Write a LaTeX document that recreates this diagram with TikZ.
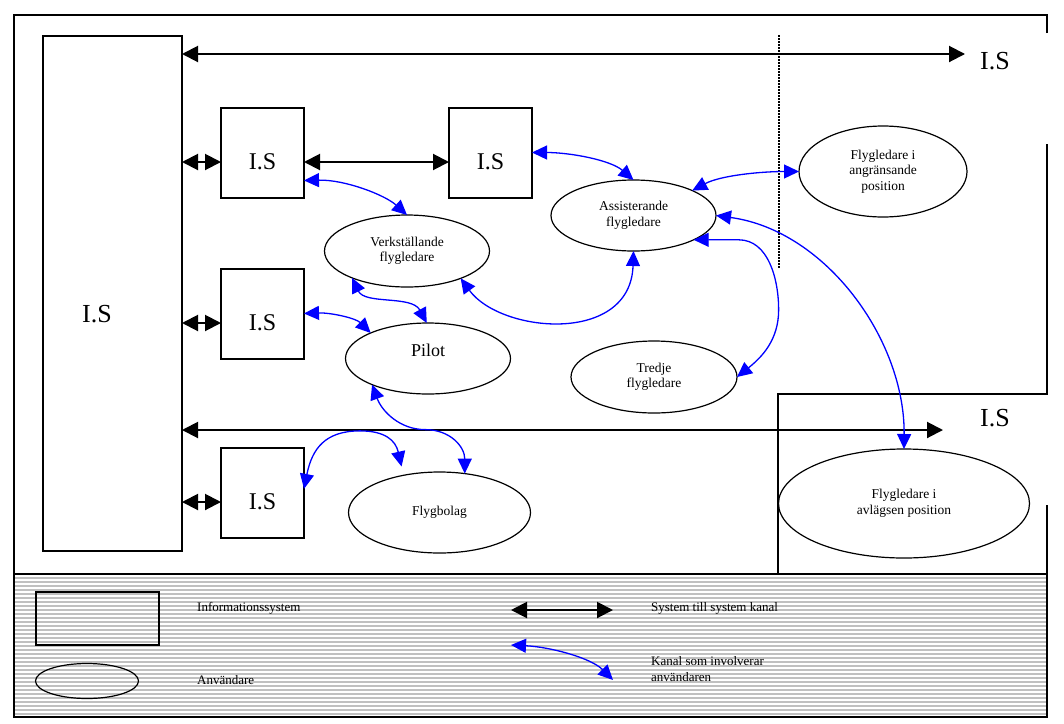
\documentclass[tikz,border=0pt]{standalone}
\usepackage{fontspec}
\setmainfont{Liberation Serif}
\usetikzlibrary{arrows.meta,shapes.geometric,calc}
\definecolor{leggray}{RGB}{192,192,192}
\begin{document}
\begin{tikzpicture}[x=1pt,y=-1pt,
  isbox/.style={draw,line width=2pt,minimum width=83pt,minimum height=90pt,inner sep=0pt,outer sep=0pt},
  istext/.style={font=\fontsize{24}{26}\selectfont,inner sep=0pt},
  bigtext/.style={font=\fontsize{26}{28}\selectfont,inner sep=0pt},
  user/.style={draw,ellipse,line width=1.2pt,inner sep=0pt,outer sep=0pt,align=center,font=\fontsize{13.5}{15.5}\selectfont},
  sys/.style={line width=2pt,{Triangle[length=16pt,width=16pt]}-{Triangle[length=16pt,width=16pt]}},
  chan/.style={draw=blue,line width=1.3pt,{Triangle[length=15pt,width=14pt]}-{Triangle[length=15pt,width=14pt]}},
  frame/.style={line width=2pt},
  legtext/.style={font=\fontsize{13}{15.5}\selectfont,anchor=west,inner sep=0pt,align=left}
]
\useasboundingbox (0,0) rectangle (1064,723);
\fill[white] (0,0) rectangle (1064,723);

% legend background
\fill[leggray] (14,574) rectangle (1047,717);
\foreach \yy in {576,580,...,716} \draw[white,line width=1.2pt] (14,\yy) -- (1047,\yy);

% frame
\draw[frame] (1047,33) -- (1047,15) -- (14,15) -- (14,717) -- (1047,717) -- (1047,505);
\draw[frame] (1047,144) -- (1047,394) -- (778,394) -- (778,574);
\draw[frame] (14,574) -- (1047,574);
\draw[line width=1.5pt,dash pattern=on 1.5pt off 1.5pt] (779,35) -- (779,268);

% information systems
\node[draw,line width=2pt,minimum width=139pt,minimum height=515pt,inner sep=0pt,outer sep=0pt] (big) at (112.5,293.5) {};
\node[bigtext] (bigt) at (97,314) {I.S};
\node[isbox] (is1) at (262.5,152.5) {};
\node[istext] (is1t) at ([yshift=-9.5pt]is1.center) {I.S};
\node[isbox] (is2) at (490.5,152.5) {};
\node[istext] (is2t) at ([yshift=-9.5pt]is2.center) {I.S};
\node[isbox] (is3) at (262.5,313.5) {};
\node[istext] (is3t) at ([yshift=-9.5pt]is3.center) {I.S};
\node[isbox] (is4) at (262.5,492.5) {};
\node[istext] (is4t) at ([yshift=-9.5pt]is4.center) {I.S};
\node[bigtext] (ext1) at (995,61) {I.S};
\node[bigtext] (ext2) at (995,418) {I.S};

% users
\node[user,minimum width=165pt,minimum height=72pt] (verk) at (407,251) {Verkställande\\flygledare};
\node[user,minimum width=165pt,minimum height=71pt] (assist) at (633.5,215.5) {Assisterande\\flygledare};
\node[user,minimum width=168pt,minimum height=91pt] (angr) at (883,171.5) {Flygledare i\\angränsande\\position};
\node[user,minimum width=165pt,minimum height=71pt] (pilot) at (428,358.5) {};
\node[font=\fontsize{18}{20}\selectfont,inner sep=0pt] (pilott) at ([yshift=8pt]pilot.center) {Pilot};
\node[user,minimum width=166pt,minimum height=72pt] (tredje) at (654,377) {Tredje\\flygledare};
\node[user,minimum width=182pt,minimum height=81pt] (flyg) at (439.5,512.5) {Flygbolag};
\node[user,minimum width=251pt,minimum height=109pt] (avl) at (904,503.5) {Flygledare i\\avlägsen position};

% system to system channels
\coordinate (topend) at (965,54);
\coordinate (midend) at (943,430);
\draw[sys] (big.east |- topend) -- (topend);
\draw[sys] (big.east |- midend) -- (midend);
\draw[sys] (big.east |- is1t) -- (is1.west |- is1t);
\draw[sys] (big.east |- is3t) -- (is3.west |- is3t);
\draw[sys] (big.east |- is4t) -- (is4.west |- is4t);
\draw[sys] (is1.east |- is1t) -- (is2.west |- is1t);

% user channels
\draw[chan] (is1.-34.5) .. controls +(41,-1) and +(-22,-20) .. (verk.north);
\draw[chan] (is2.east) .. controls +(38,0) and +(-23,-20) .. (assist.north);
\draw[chan] (assist.23) .. controls +(28,-15) and +(-39,0) .. (angr.west);
\draw[chan] (assist.east) .. controls +(110,15) and +(1,-109) .. (avl.north);
\draw[chan] (assist.-22) -- ++(45,0) .. controls +(30,0) and +(0,-30) .. ++(40,70) .. controls +(0,30) and +(25,-20) .. (tredje.east);
\draw[chan] (verk.-27) .. controls +(40,55) and +(-3,94) .. (assist.south);
\draw[chan] (verk.-154) .. controls +(13,27) and +(-15,-28) .. (pilot.92);
\draw[chan] (is3.east) .. controls +(26,-1) and +(-15,-15) .. (pilot.156);
\draw[chan] (pilot.-155) .. controls +(10,27) and +(-25,0) .. ++(53,45) .. controls +(25,0) and +(0,-27) .. (flyg.57);
\draw[chan,shorten >=9pt] (is4.5) .. controls +(8,-40) and +(-35,0) .. ++(56,-58) .. controls +(25,0) and +(-8,-35) .. (flyg.134);

% legend
\node[draw,line width=2pt,minimum width=123pt,minimum height=53pt,inner sep=0pt,outer sep=0pt] (legbox) at (97.5,618.5) {};
\node[draw,ellipse,line width=1.2pt,minimum width=103pt,minimum height=35pt,inner sep=0pt] (legell) at (87,681) {};
\node[legtext] (l1) at (197,608) {Informationssystem};
\node[legtext] (l2) at (197,680) {Användare};
\coordinate (s1) at (511,610);
\coordinate (s2) at (613,610);
\draw[sys] (s1) -- (s2);
\node[legtext] (l3) at (651,608) {System till system kanal};
\coordinate (c1) at (511,645);
\coordinate (c2) at (613,680);
\draw[chan] (c1) .. controls +(40,2) and +(-22,-22) .. (c2);
\node[legtext] (l4) at (651,669) {Kanal som involverar\\användaren};
\end{tikzpicture}
\end{document}
